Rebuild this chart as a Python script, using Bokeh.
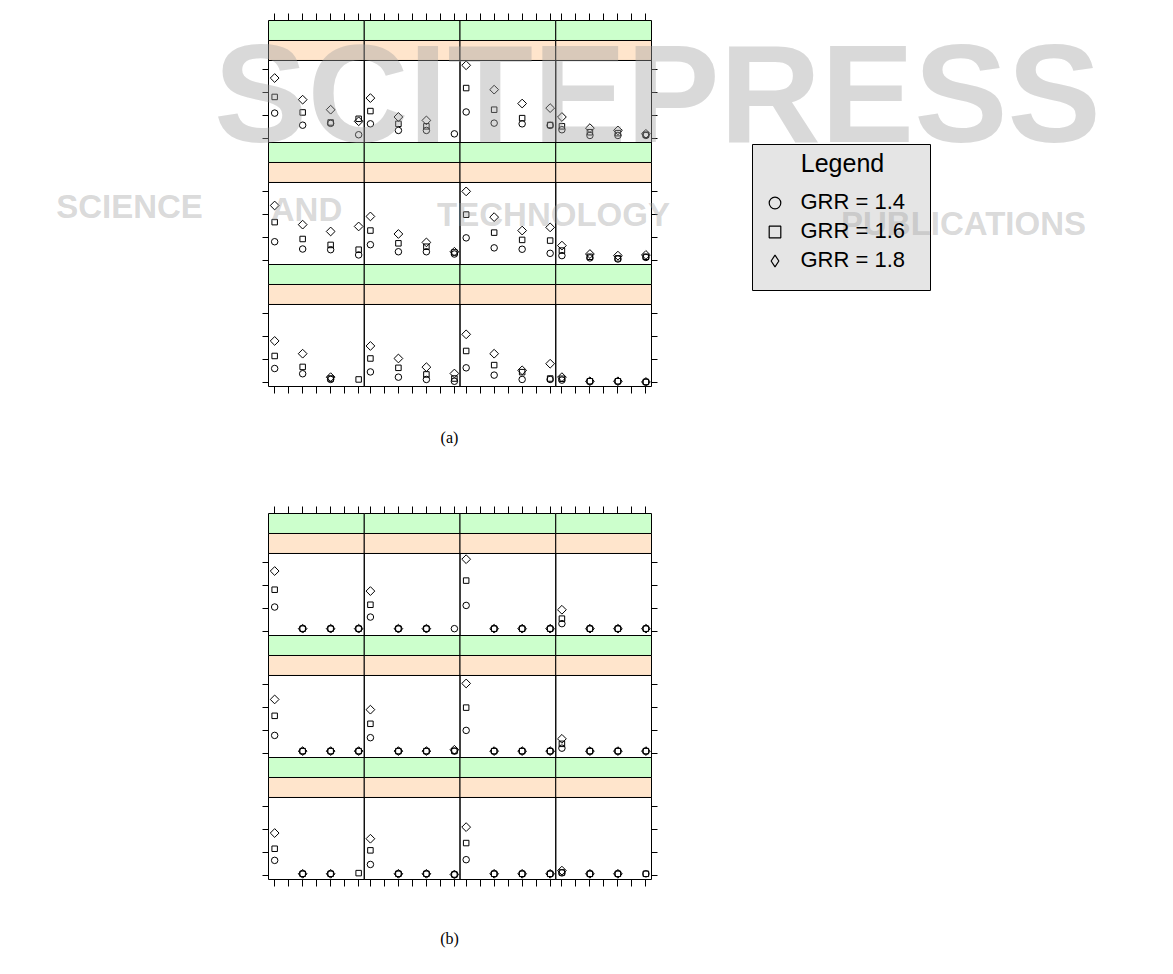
import numpy as np
from bokeh.plotting import figure
from bokeh.models import (Range1d, LinearAxis, FixedTicker, CustomJSTickFormatter,
                          ColumnDataSource, Legend, LegendItem, Label, BoxAnnotation)
from bokeh.embed import file_html
from bokeh.resources import INLINE

# ---------------- data (rows top->bottom, columns left->right, 4 x-levels each) ----------------
x_levels = [1, 2, 3, 4]
x_ticks = [1, 1.5, 2, 2.5, 3, 3.5, 4]
y_ticks = [0, 1, 2, 3]
series_labels = ["GRR = 1.4", "GRR = 1.6", "GRR = 1.8"]

a_circle = [
    [[1.10, 0.57, 0.65, 0.15], [0.63, 0.34, 0.34, 0.19], [1.15, 0.66, 0.63, 0.56], [0.37, 0.12, 0.12, 0.12]],
    [[0.81, 0.49, 0.46, 0.23], [0.68, 0.37, 0.37, 0.27], [0.98, 0.54, 0.48, 0.30], [0.20, 0.10, 0.05, 0.12]],
    [[0.60, 0.37, 0.12, None], [0.45, 0.22, 0.12, 0.04], [0.63, 0.31, 0.12, 0.12], [0.09, 0.04, 0.04, 0.01]],
]
a_square = [
    [[1.81, 1.13, 0.69, 0.85], [1.19, 0.63, 0.52, None], [2.20, 1.25, 0.88, 0.58], [0.52, 0.26, 0.22, 0.15]],
    [[1.67, 0.93, 0.67, 0.46], [1.30, 0.74, 0.59, 0.34], [2.00, 1.21, 0.89, 0.86], [0.42, 0.15, 0.08, 0.15]],
    [[1.15, 0.67, 0.16, 0.12], [1.04, 0.63, 0.34, 0.16], [1.37, 0.75, 0.44, 0.16], [0.15, 0.04, 0.04, 0.01]],
]
a_diamond = [
    [[2.64, 1.69, 1.25, 0.74], [1.76, 0.93, 0.78, None], [3.20, 2.13, 1.52, 1.32], [0.93, 0.44, 0.34, 0.19]],
    [[2.40, 1.56, 1.26, 1.48], [1.92, 1.15, 0.78, 0.37], [3.02, 1.89, 1.30, 1.44], [0.64, 0.27, 0.20, 0.23]],
    [[1.81, 1.25, 0.22, None], [1.59, 1.04, 0.66, 0.38], [2.10, 1.25, 0.52, 0.81], [0.22, 0.04, 0.04, 0.01]],
]

b_circle = [
    [[1.06, 0.11, 0.11, 0.11], [0.62, 0.11, 0.11, 0.11], [1.13, 0.11, 0.11, 0.11], [0.33, 0.11, 0.11, 0.11]],
    [[0.78, 0.09, 0.09, 0.09], [0.68, 0.09, 0.09, 0.09], [1.00, 0.09, 0.09, 0.09], [0.22, 0.09, 0.09, 0.09]],
    [[0.65, 0.06, 0.06, None], [0.47, 0.06, 0.06, 0.03], [0.68, 0.06, 0.06, 0.06], [0.10, 0.06, 0.06, 0.06]],
]
b_square = [
    [[1.82, 0.11, 0.11, 0.11], [1.16, 0.11, 0.11, None], [2.22, 0.11, 0.11, 0.11], [0.55, 0.11, 0.11, 0.11]],
    [[1.64, 0.09, 0.09, 0.09], [1.29, 0.09, 0.09, 0.10], [2.00, 0.09, 0.09, 0.09], [0.41, 0.09, 0.09, 0.09]],
    [[1.16, 0.06, 0.06, 0.09], [1.09, 0.06, 0.06, 0.03], [1.41, 0.06, 0.06, 0.06], [0.12, 0.06, 0.06, 0.06]],
]
b_diamond = [
    [[2.64, 0.11, 0.11, 0.11], [1.76, 0.11, 0.11, None], [3.16, 0.11, 0.11, 0.11], [0.94, 0.11, 0.11, 0.11]],
    [[2.36, 0.09, 0.09, 0.09], [1.91, 0.09, 0.09, 0.15], [3.06, 0.09, 0.09, 0.09], [0.63, 0.09, 0.09, 0.09]],
    [[1.85, 0.06, 0.06, None], [1.60, 0.06, 0.06, 0.03], [2.11, 0.06, 0.06, 0.06], [0.20, 0.06, 0.06, None]],
]

# ---------------- layout constants ----------------
NROW, NCOL = 3, 4
X_LO, X_HI = 0.78, 4.20          # x range of one panel
Y_LO, Y_HI = -0.19, 3.41         # y range of one panel
STRIP = 0.878                    # height of one strip, y units
XSPAN = X_HI - X_LO
YSPAN = (Y_HI - Y_LO) + 2 * STRIP

W, H = 1172, 972
BL, BR, BT, BB = 8, 6, 12, 12    # borders around the frame
FL, FR, FT, FB = BL, W - BR, BT, H - BB

# page placement of the two trellis blocks (pixels)
BLOCK_LEFT_PX = 268
BLOCK_W_PX = 383
BLOCK_H_PX = 366
A_BOTTOM_PX = 386
B_BOTTOM_PX = 879
PXU = BLOCK_W_PX / (NCOL * XSPAN)
PYU = BLOCK_H_PX / (NROW * YSPAN)
OFFSET_A = (B_BOTTOM_PX - A_BOTTOM_PX) / PYU   # y offset of block (a) above block (b)

STRIP_OUTER = "#ccffcc"
STRIP_INNER = "#ffe5cc"


def px2x(px):
    return X_LO + (px - BLOCK_LEFT_PX) / PXU


def py2y(py):
    return Y_LO + (B_BOTTOM_PX - py) / PYU


def flatten(data, yoff):
    xs, ys = [], []
    for r in range(NROW):
        for c in range(NCOL):
            for i, v in enumerate(data[r][c]):
                if v is None:
                    continue
                xs.append(c * XSPAN + x_levels[i])
                ys.append(yoff + (NROW - 1 - r) * YSPAN + v)
    return xs, ys


p = figure(width=W, height=H,
           x_range=Range1d(px2x(FL), px2x(FR)),
           y_range=Range1d(py2y(FB), py2y(FT)),
           output_backend="svg", toolbar_location=None,
           x_axis_location=None, y_axis_location=None,
           min_border_left=BL, min_border_right=BR, min_border_top=BT, min_border_bottom=BB)
p.xgrid.visible = False
p.ygrid.visible = False
p.outline_line_color = None
p.background_fill_color = "white"
p.border_fill_color = "white"

xt = [c * XSPAN + t for c in range(NCOL) for t in x_ticks]
yt = [off + (NROW - 1 - r) * YSPAN + t for off in (OFFSET_A, 0.0) for r in range(NROW) for t in y_ticks]


def make_axis(ticks, loc, tick_len):
    ax = LinearAxis(fixed_location=loc, ticker=FixedTicker(ticks=ticks),
                    formatter=CustomJSTickFormatter(code="return ''"))
    ax.major_tick_out = tick_len
    ax.major_tick_in = 0
    ax.minor_tick_out = 0
    ax.minor_tick_in = 0
    ax.axis_line_color = None
    ax.major_tick_line_color = "black"
    ax.major_label_standoff = 0
    ax.major_label_text_font_size = "0px"
    return ax


p.add_layout(make_axis(yt, X_LO, 6), "left")
p.add_layout(make_axis(yt, (NCOL - 1) * XSPAN + X_HI, 6), "right")
for off in (OFFSET_A, 0.0):
    p.add_layout(make_axis(xt, off + NROW * YSPAN + Y_LO, 7), "above")
    p.add_layout(make_axis(xt, off + Y_LO, 7), "below")

# panels and strips of both blocks
pl, pr, pb, pt = [], [], [], []
il, ir, ib, it = [], [], [], []
ol, orr, ob, ot = [], [], [], []
for off in (OFFSET_A, 0.0):
    for r in range(NROW):
        by = off + (NROW - 1 - r) * YSPAN
        for c in range(NCOL):
            bx = c * XSPAN
            pl.append(bx + X_LO); pr.append(bx + X_HI); pb.append(by + Y_LO); pt.append(by + Y_HI)
            il.append(bx + X_LO); ir.append(bx + X_HI); ib.append(by + Y_HI); it.append(by + Y_HI + STRIP)
            ol.append(bx + X_LO); orr.append(bx + X_HI); ob.append(by + Y_HI + STRIP); ot.append(by + Y_HI + 2 * STRIP)
p.quad(left=il, right=ir, bottom=ib, top=it, fill_color=STRIP_INNER, line_color="black", line_width=1)
p.quad(left=ol, right=orr, bottom=ob, top=ot, fill_color=STRIP_OUTER, line_color="black", line_width=1)
p.quad(left=pl, right=pr, bottom=pb, top=pt, fill_color=None, line_color="black", line_width=1)

for circ, sq, dia, off in ((a_circle, a_square, a_diamond, OFFSET_A), (b_circle, b_square, b_diamond, 0.0)):
    cx, cy = flatten(circ, off)
    sx, sy = flatten(sq, off)
    dx, dy = flatten(dia, off)
    p.scatter(x=cx, y=cy, marker="circle", size=6.5, fill_color=None, line_color="black", line_width=1)
    p.scatter(x=sx, y=sy, marker="square", size=5.5, fill_color=None, line_color="black", line_width=1)
    p.scatter(x=dx, y=dy, marker="square", angle=np.pi / 4, size=6.2, fill_color=None,
              line_color="black", line_width=1)

# legend: grey box, centred title, three keys
LEG_LEFT, LEG_RIGHT, LEG_TOP, LEG_BOTTOM = 752, 930, 144, 290
p.add_layout(BoxAnnotation(left=px2x(LEG_LEFT), right=px2x(LEG_RIGHT),
                           top=py2y(LEG_TOP), bottom=py2y(LEG_BOTTOM),
                           fill_color="#e5e5e5", fill_alpha=1.0,
                           line_color="black", line_width=1, line_alpha=1.0))
key_src = ColumnDataSource(data=dict(x=[np.nan], y=[np.nan]))
r1 = p.scatter(x="x", y="y", source=key_src, marker="circle", fill_color=None, line_color="black", line_width=1.2)
r2 = p.scatter(x="x", y="y", source=key_src, marker="square", fill_color=None, line_color="black", line_width=1.2)
r3 = p.scatter(x="x", y="y", source=key_src, marker="diamond", fill_color=None, line_color="black", line_width=1.2)
items = [LegendItem(label=series_labels[0], renderers=[r1]),
         LegendItem(label=series_labels[1], renderers=[r2]),
         LegendItem(label=series_labels[2], renderers=[r3])]
GH = 29
KEY_CX, KEY_CY0 = 774, 202
leg_left = KEY_CX - GH / 2
leg_top = KEY_CY0 - GH / 2
leg = Legend(items=items, padding=0, spacing=0, margin=0,
             glyph_width=GH, glyph_height=GH, label_standoff=12,
             label_text_font="Liberation Sans", label_text_font_size="22px",
             label_text_color="black",
             border_line_color=None, background_fill_alpha=0.0,
             location=(leg_left - FL, FB - (leg_top + 3 * GH)))
p.add_layout(leg)
p.add_layout(Label(x=px2x(842), y=py2y(162), text="Legend",
                   text_align="center", text_baseline="middle", level="overlay",
                   text_font="Liberation Sans", text_font_size="25px", text_color="black"))

# block captions
for tag, ty in (("(a)", 437), ("(b)", 938)):
    p.add_layout(Label(x=px2x(449), y=py2y(ty), text=tag,
                       text_align="center", text_baseline="middle",
                       text_font="Liberation Serif", text_font_size="16px", text_color="black"))

# publisher watermark lying over the page
wm = [("SCITEPRESS", 657, 93, "140px"),
      ("SCIENCE", 129, 206, "33px"), ("AND", 306, 209, "33px"),
      ("TECHNOLOGY", 553, 214, "33px"), ("PUBLICATIONS", 963, 223, "33px")]
for txt, xx, yy, fs in wm:
    p.add_layout(Label(x=px2x(xx), y=py2y(yy), text=txt, level="overlay",
                       text_align="center", text_baseline="middle",
                       text_font="Liberation Sans", text_font_style="bold",
                       text_font_size=fs, text_color="#a0a0a0", text_alpha=0.4))

open("out.html", "w").write(file_html(p, INLINE))
